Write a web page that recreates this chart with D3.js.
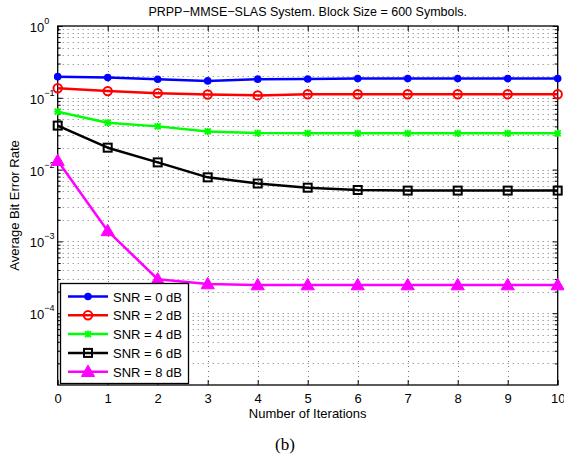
<!DOCTYPE html>
<html>
<head>
<meta charset="utf-8">
<script src="https://cdn.jsdelivr.net/npm/d3@7"></script>
<style>
  body { margin: 0; background: #fff; }
  svg { display: block; font-family: "Liberation Sans", Arial, sans-serif; }
</style>
</head>
<body>
<svg></svg>
<script>
// data
var iterations = [0, 1, 2, 3, 4, 5, 6, 7, 8, 9, 10];
var snr0 = [0.197, 0.191, 0.181, 0.172, 0.182, 0.183, 0.185, 0.185, 0.185, 0.185, 0.185];
var snr2 = [0.136, 0.124, 0.116, 0.111, 0.108, 0.112, 0.112, 0.112, 0.112, 0.112, 0.112];
var snr4 = [0.064, 0.045, 0.040, 0.034, 0.0323, 0.0322, 0.032, 0.032, 0.032, 0.032, 0.032];
var snr6 = [0.041, 0.0202, 0.0126, 0.0078, 0.0064, 0.0056, 0.0052, 0.0051, 0.0051, 0.0051, 0.0051];
var snr8 = [0.0133, 0.0014, 0.000297, 0.000255, 0.000247, 0.000247, 0.000247, 0.000247, 0.000247, 0.000247, 0.000247];
var seriesNames = ["SNR = 0 dB", "SNR = 2 dB", "SNR = 4 dB", "SNR = 6 dB", "SNR = 8 dB"];
var xTicks = [0, 1, 2, 3, 4, 5, 6, 7, 8, 9, 10];
var yTicks = [1, 1e-1, 1e-2, 1e-3, 1e-4];
var yTickExp = ["0", "\u22121", "\u22122", "\u22123", "\u22124"];

var width = 564;
var height = 457;
var padLeft = 57.7, padRight = 557.7, padTop = 26, padBottom = 385;

var svg = d3.select("svg").attr("width", width).attr("height", height);

var xScale = d3.scaleLinear().domain([0, 10]).range([padLeft, padRight]);
var yScale = d3.scaleLog().domain([1e-5, 1]).range([padBottom, padTop]);

// grid lines
var minorY = [];
for (var k = -5; k < 0; k++) {
  for (var m = 1; m < 10; m++) {
    minorY.push(m * Math.pow(10, k));
  }
}
var grid = svg.append("g").attr("stroke", "#555").attr("stroke-width", 0.8)
  .attr("stroke-dasharray", "1,4");
grid.selectAll("line.gy")
  .data(minorY.slice(1))
  .enter()
  .append("line")
  .attr("x1", padLeft).attr("x2", padRight)
  .attr("y1", (d) => Math.round(yScale(d)) + 0.5)
  .attr("y2", (d) => Math.round(yScale(d)) + 0.5);
grid.selectAll("line.gx")
  .data(xTicks.slice(1, -1))
  .enter()
  .append("line")
  .attr("y1", padTop).attr("y2", padBottom)
  .attr("x1", (d) => Math.round(xScale(d)) + 0.5)
  .attr("x2", (d) => Math.round(xScale(d)) + 0.5);

// axes
var xAxis = d3.axisBottom(xScale).tickValues(xTicks).tickSizeInner(-5).tickSizeOuter(0).tickPadding(9);
var gx = svg.append("g").attr("transform", "translate(0," + padBottom + ")").call(xAxis);
gx.selectAll("text").attr("font-size", 13).attr("font-family", "Liberation Sans, Arial");
gx.select(".domain").remove();

var xTop = d3.axisTop(xScale).tickValues(xTicks).tickSizeInner(-5).tickSizeOuter(0).tickFormat("");
var gxt = svg.append("g").attr("transform", "translate(0," + padTop + ")").call(xTop);
gxt.select(".domain").remove();

var yAxis = d3.axisLeft(yScale).tickValues(yTicks).tickSizeInner(-5).tickSizeOuter(0).tickFormat("");
var gy = svg.append("g").attr("transform", "translate(" + padLeft + ",0)").call(yAxis);
gy.select(".domain").remove();
var yRight = d3.axisRight(yScale).tickValues(yTicks).tickSizeInner(-5).tickSizeOuter(0).tickFormat("");
var gyr = svg.append("g").attr("transform", "translate(" + padRight + ",0)").call(yRight);
gyr.select(".domain").remove();

// minor ticks on the log axis
var minorOnly = minorY.filter((d, i) => i % 9 != 0);
var yMinor = d3.axisLeft(yScale).tickValues(minorOnly).tickSizeInner(-3).tickSizeOuter(0).tickFormat("");
var gym = svg.append("g").attr("transform", "translate(" + padLeft + ",0)").call(yMinor);
gym.select(".domain").remove();
var yMinorR = d3.axisRight(yScale).tickValues(minorOnly).tickSizeInner(-3).tickSizeOuter(0).tickFormat("");
var gymr = svg.append("g").attr("transform", "translate(" + padRight + ",0)").call(yMinorR);
gymr.select(".domain").remove();

// y tick labels with exponent
var ylab = svg.append("g");
yTicks.forEach((v, i) => {
  var t = ylab.append("text")
    .attr("x", padLeft - 28)
    .attr("y", yScale(v) + 6)
    .attr("text-anchor", "start")
    .attr("font-size", 13)
    .attr("fill", "#000");
  t.append("tspan").text("10");
  t.append("tspan").attr("dy", -8).attr("font-size", 9).text(yTickExp[i]);
});

// box
svg.append("rect")
  .attr("x", padLeft).attr("y", padTop)
  .attr("width", padRight - padLeft).attr("height", padBottom - padTop)
  .attr("fill", "none").attr("stroke", "#000").attr("stroke-width", 1.3);

// series
var series = [
  { name: seriesNames[0], values: snr0, color: "#0000ff", marker: "dot" },
  { name: seriesNames[1], values: snr2, color: "#ff0000", marker: "circle" },
  { name: seriesNames[2], values: snr4, color: "#00ff00", marker: "star" },
  { name: seriesNames[3], values: snr6, color: "#000000", marker: "square" },
  { name: seriesNames[4], values: snr8, color: "#ff00ff", marker: "triangle" }
];

var line = d3.line()
  .x((d) => xScale(d[0]))
  .y((d) => yScale(d[1]));

var drawMarker = (g, type, color, cx, cy) => {
  if (type == "dot") {
    g.append("circle").attr("cx", cx).attr("cy", cy).attr("r", 3.8).attr("fill", color);
  } else if (type == "circle") {
    g.append("circle").attr("cx", cx).attr("cy", cy).attr("r", 4.2)
      .attr("fill", "none").attr("stroke", color).attr("stroke-width", 2);
  } else if (type == "star") {
    var s = 3;
    var p = "M" + (cx - s) + "," + (cy - s) + "L" + (cx + s) + "," + (cy + s) +
      "M" + (cx - s) + "," + (cy + s) + "L" + (cx + s) + "," + (cy - s) +
      "M" + cx + "," + (cy - s - 0.5) + "L" + cx + "," + (cy + s + 0.5) +
      "M" + (cx - s - 0.5) + "," + cy + "L" + (cx + s + 0.5) + "," + cy;
    g.append("path").attr("d", p).attr("stroke", color).attr("stroke-width", 1.8).attr("fill", "none");
  } else if (type == "square") {
    g.append("rect").attr("x", cx - 4).attr("y", cy - 4).attr("width", 8).attr("height", 8)
      .attr("fill", "none").attr("stroke", color).attr("stroke-width", 2);
  } else if (type == "triangle") {
    g.append("path").attr("d", d3.symbol(d3.symbolTriangle, 75)())
      .attr("transform", "translate(" + cx + "," + (cy + 1) + ")")
      .attr("fill", color).attr("stroke", color).attr("stroke-width", 1);
  }
};

series.forEach((s) => {
  var pts = iterations.map((x, i) => [x, s.values[i]]);
  var g = svg.append("g");
  g.append("path")
    .datum(pts)
    .attr("d", line)
    .attr("fill", "none")
    .attr("stroke", s.color)
    .attr("stroke-width", 2.5)
    .attr("stroke-linejoin", "round");
  pts.forEach((p) => drawMarker(g, s.marker, s.color, xScale(p[0]), yScale(p[1])));
});

// legend
var legend = svg.append("g");
legend.append("rect")
  .attr("x", 60.5).attr("y", 283.5).attr("width", 128).attr("height", 100)
  .attr("fill", "#fff").attr("stroke", "#000").attr("stroke-width", 1.3);
series.forEach((s, i) => {
  var ly = 296.5 + i * 18.8;
  var g = legend.append("g");
  g.append("line").attr("x1", 68).attr("x2", 108).attr("y1", ly).attr("y2", ly)
    .attr("stroke", s.color).attr("stroke-width", 2.5);
  drawMarker(g, s.marker, s.color, 88, ly);
  g.append("text").attr("x", 113).attr("y", ly + 5).attr("font-size", 13).text(s.name);
});

// titles
svg.append("text")
  .attr("x", (padLeft + padRight) / 2).attr("y", 16)
  .attr("text-anchor", "middle").attr("font-size", 12.5)
  .text("PRPP\u2212MMSE\u2212SLAS System. Block Size = 600 Symbols.");

svg.append("text")
  .attr("x", (padLeft + padRight) / 2).attr("y", 418)
  .attr("text-anchor", "middle").attr("font-size", 13)
  .text("Number of Iterations");

svg.append("text")
  .attr("transform", "translate(19," + (padTop + padBottom) / 2 + ") rotate(-90)")
  .attr("text-anchor", "middle").attr("font-size", 13)
  .text("Average Bit Error Rate");

svg.append("text")
  .attr("x", 285).attr("y", 450)
  .attr("text-anchor", "middle").attr("font-size", 17)
  .attr("font-family", "Liberation Serif, Times New Roman, serif")
  .text("(b)");
</script>
</body>
</html>
